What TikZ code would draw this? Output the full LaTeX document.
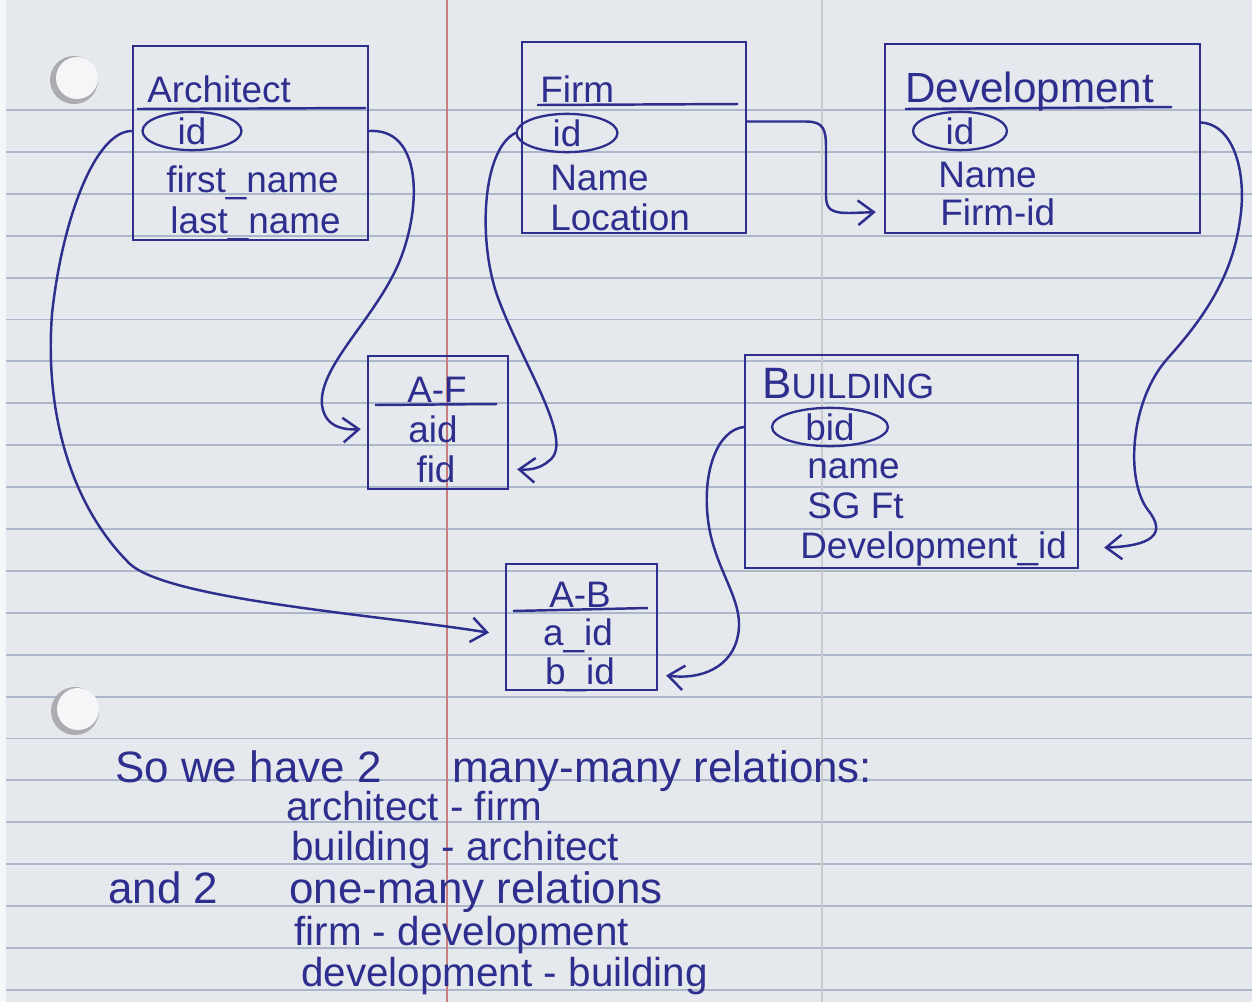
\documentclass[tikz,border=0pt]{standalone}
\usepackage{fontspec}
\setmainfont{Liberation Sans}
\usetikzlibrary{arrows.meta,shapes.geometric,calc}
\definecolor{ink}{RGB}{46,46,142}
\definecolor{paper}{RGB}{229,232,236}
\definecolor{ruleblue}{RGB}{172,184,202}
\definecolor{marginred}{RGB}{200,125,125}
\definecolor{foldgray}{RGB}{200,202,206}
\definecolor{holeshade}{RGB}{172,172,176}
\definecolor{holewhite}{RGB}{246,246,248}
\newcommand\hsz[1]{\fontsize{#1}{#1}\selectfont}
\begin{document}
\begin{tikzpicture}[x=0.02cm,y=-0.02cm,
  box/.style={draw=ink,line width=1.4pt,inner sep=0pt},
  txt/.style={text=ink,inner sep=0pt,font=\hsz{21}},
  fld/.style={txt,anchor=base west},
  cfld/.style={txt,anchor=base},
  key/.style={draw=ink,line width=1.3pt,ellipse,inner sep=0pt,text=ink,font=\hsz{21}},
  link/.style={draw=ink,line width=1.4pt,line cap=round,-{Straight Barb[length=9pt,width=14pt,line width=1.4pt]}},
  divider/.style={draw=ink,line width=1.4pt},
  note/.style={text=ink,inner sep=0pt,anchor=base west,font=\hsz{23}},
  head/.style={text=ink,inner sep=0pt,anchor=base west,font=\hsz{25}}
]
% paper
\fill[paper] (0,0) rectangle (1252,1002);
\useasboundingbox (0,0) rectangle (1252,1002);
\fill[white!60!paper] (0,0) rectangle (6,1002);
\foreach \k in {0,...,21} \draw[ruleblue,line width=1.1pt] (6,{110+41.9*\k}) -- (1252,{110+41.9*\k});
\draw[marginred,line width=0.9pt] (447,0) -- (447,1002);
\draw[foldgray,line width=0.8pt] (822,0) -- (822,1002);
\fill[holeshade] (74,80) circle[radius=24];
\fill[holewhite] (77,78) circle[radius=21];
\fill[holeshade] (75,711) circle[radius=24];
\fill[holewhite] (78,709) circle[radius=21];

% tables
\node[box,minimum width=4.70cm,minimum height=3.88cm] (arch) at (250.5,143) {};
\node[box,minimum width=4.48cm,minimum height=3.82cm] (firm) at (634,137.5) {};
\node[box,minimum width=6.30cm,minimum height=3.78cm] (dev) at (1042.5,138.5) {};
\node[box,minimum width=2.80cm,minimum height=2.66cm] (af) at (438,422.5) {};
\node[box,minimum width=6.66cm,minimum height=4.26cm] (bld) at (911.5,461.5) {};
\node[box,minimum width=3.02cm,minimum height=2.52cm] (ab) at (581.5,627) {};

\draw[divider] (137,109) -- (366,108);
\draw[divider] (537,105) -- (738,104);
\draw[divider] (905,109) -- (1172,107);
\draw[divider] (375,405) -- (497,404);
\draw[divider] (513,611) -- (648,608);

% Architect
\node[fld] (archt) at (147,102) {Architect};
\node[key,minimum width=1.98cm,minimum height=0.66cm] (archid) at (192,131) {id};
\node[fld] (archfn) at (166,192) {first\_name};
\node[fld] (archln) at (170,233) {last\_name};
% Firm
\node[fld] (firmt) at (540,102) {Firm};
\node[key,minimum width=2.02cm,minimum height=0.74cm] (firmid) at (567,133) {id};
\node[fld] (firmnm) at (550,190) {Name};
\node[fld] (firmloc) at (550,230) {Location};
% Development
\node[fld,font=\hsz{24}] (devt) at (905,102) {Development};
\node[key,minimum width=1.88cm,minimum height=0.70cm] (devid) at (960,131) {id};
\node[fld] (devnm) at (938,187) {Name};
\node[fld] (devfid) at (940,225) {Firm-id};
% A-F
\node[cfld] (aft) at (437,402) {A-F};
\node[cfld] (afaid) at (433,442) {aid};
\node[cfld] (affid) at (436,482) {fid};
% BUILDING
\node[fld] (bldt) at (762,398) {{\hsz{25}B}{\hsz{20}UILDING}};
\node[key,minimum width=2.32cm,minimum height=0.66cm] (bldbid) at (830,427) {bid};
\node[fld] (bldnm) at (807,478) {name};
\node[fld] (bldsq) at (807,518) {SG Ft};
\node[fld] (blddev) at (800,558) {Development\_id};
% A-B
\node[cfld] (abt) at (580,607) {A-B};
\node[cfld] (abaid) at (578,645) {a\_id};
\node[cfld] (abbid) at (580,684) {b\_id};

% connectors
\draw[link,shorten >=0.32cm] (arch.west |- archid) .. controls (95,131) and (62,220) .. (52,314)
  .. controls (44,420) and (75,510) .. (130,564) .. controls (170,600) and (380,615) .. (ab.west |- abaid);
\draw[link,shorten >=0.12cm] (arch.east |- archid) .. controls (420,128) and (422,200) .. (402,255)
  .. controls (380,315) and (318,365) .. (322,405) .. controls (325,428) and (345,430) .. (af.west |- afaid);
\draw[link,shorten >=0.16cm] (firmid.west) .. controls (482,150) and (478,240) .. (497,295)
  .. controls (520,360) and (575,440) .. (550,460) .. controls (540,469) and (530,470) .. (af.east |- affid);
\draw[link,shorten >=0.16cm] ($(firm.east)+(0,-16)$) -- (806,121.5) .. controls (824,121.5) and (826,130) .. (826,148)
  -- (826,196) .. controls (826,210) and (832,213) .. (850,213) -- (dev.west |- devfid);
\draw[link,shorten >=0.5cm] ($(dev.east)+(0,-16)$) .. controls (1235,125) and (1247,175) .. (1240,220)
  .. controls (1232,280) and (1200,322) .. (1168,358) .. controls (1130,400) and (1125,480) .. (1148,510)
  .. controls (1168,535) and (1150,546) .. (bld.east |- blddev);
\draw[link,shorten >=0.16cm] (bld.west |- bldbid) .. controls (718,430) and (702,470) .. (708,520)
  .. controls (714,570) and (745,600) .. (738,635) .. controls (732,668) and (700,680) .. (ab.east |- abbid);

% notes
\node[head] (n1a) at (115,782) {So we have 2};
\node[head] (n1b) at (452,782) {many-many relations:};
\node[note] (n2) at (286,820) {architect - firm};
\node[note] (n3) at (291,860) {building - architect};
\node[head] (n4a) at (108,903) {and 2};
\node[head] (n4b) at (289,903) {one-many relations};
\node[note] (n5) at (294,945) {firm - development};
\node[note] (n6) at (301,986) {development - building};
\end{tikzpicture}
\end{document}
